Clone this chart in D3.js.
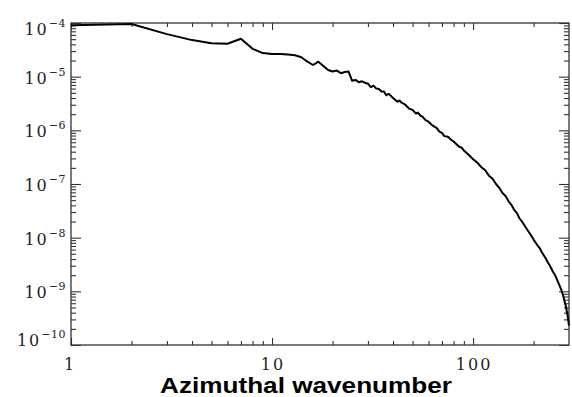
<!DOCTYPE html>
<html>
<head>
<meta charset="utf-8">
<script src="https://cdn.jsdelivr.net/npm/d3@7"></script>
<style>
  html, body { margin: 0; padding: 0; background: #fff; }
  svg { display: block; }
</style>
</head>
<body>
<script>
// ---- data ----
const wavenumber = [1,2,3,4,5,6,7,8,9,10,11,12,13,14,15,16,17,18,19,20,21,22,23,24,25,26,27,28,29,30,
  31,32,33,34,35,36,37,38,40,42,43,44,46,48,50,52,53,55,56,58,60,63,66,68,70,72,75,78,80,85,88,90,95,100,
  105,110,115,120,125,130,135,140,145,150,155,160,165,170,175,180,185,190,195,200,210,215,220,230,235,240,
  250,255,260,270,275,280,290,295,300];
const power = [9.1e-5,9.6e-5,6.2e-5,4.8e-5,4.2e-5,4.1e-5,5.1e-5,3.3e-5,2.75e-5,2.65e-5,2.65e-5,2.6e-5,2.5e-5,2.3e-5,1.9e-5,
  1.65e-5,1.9e-5,1.58e-5,1.33e-5,1.25e-5,1.3e-5,1.16e-5,1.22e-5,1.25e-5,8.4e-6,8.7e-6,7.9e-6,8.2e-6,7.7e-6,7.4e-6,
  6.4e-6,6.8e-6,6.0e-6,5.9e-6,5.3e-6,5.3e-6,4.5e-6,4.8e-6,4.0e-6,3.4e-6,3.6e-6,3.3e-6,3.0e-6,2.55e-6,2.4e-6,2.05e-6,
  2.15e-6,1.85e-6,1.8e-6,1.55e-6,1.45e-6,1.22e-6,1.1e-6,9.5e-7,9.0e-7,7.8e-7,7.6e-7,6.6e-7,6.2e-7,5.0e-7,4.7e-7,4.2e-7,
  3.5e-7,2.9e-7,2.5e-7,2.05e-7,1.8e-7,1.42e-7,1.25e-7,1.0e-7,8.5e-8,6.8e-8,6.0e-8,4.8e-8,4.1e-8,3.3e-8,2.9e-8,2.3e-8,
  2.0e-8,1.7e-8,1.45e-8,1.25e-8,1.08e-8,9.2e-9,7.0e-9,6.3e-9,5.3e-9,4.1e-9,3.5e-9,3.1e-9,2.3e-9,2.05e-9,1.75e-9,
  1.25e-9,1.05e-9,8.5e-10,5.1e-10,3.6e-10,2.3e-10];

const xDomain = [1, 300];
const yDomain = [1e-10, 1e-4];
const xMajor = [1, 10, 100];
const xMinor = [2,3,4,5,6,7,8,9,20,30,40,50,60,70,80,90,200];
const yMajorExp = [-10,-9,-8,-7,-6,-5,-4];
const xTitle = "Azimuthal wavenumber";

// ---- layout ----
const W = 572, H = 397;
const L = 71, R = 569, T = 23, B = 345;

const svg = d3.select("body").append("svg").attr("width", W).attr("height", H);
svg.append("rect").attr("width", W).attr("height", H).attr("fill", "#fff");

const x = d3.scaleLog().domain(xDomain).range([L, R]);
const y = d3.scaleLog().domain(yDomain).range([B, T]);

const yMajor = yMajorExp.map(e => Math.pow(10, e));
const yMinor = [];
yMajorExp.slice(0, -1).forEach(e => { for (let m = 2; m <= 9; m++) yMinor.push(m * Math.pow(10, e)); });

const axisColor = "#333";
function styleAxis(g) {
  g.select(".domain").remove();
  g.selectAll("line").attr("stroke", axisColor).attr("stroke-width", 1.1);
  g.selectAll("text").remove();
}

// x axes (bottom and top), ticks inward
svg.append("g").attr("transform", `translate(0,${B})`).call(d3.axisBottom(x).tickValues(xMajor).tickSize(-7).tickFormat("")).call(styleAxis);
svg.append("g").attr("transform", `translate(0,${B})`).call(d3.axisBottom(x).tickValues(xMinor).tickSize(-4).tickFormat("")).call(styleAxis);
svg.append("g").attr("transform", `translate(0,${T})`).call(d3.axisTop(x).tickValues(xMajor).tickSize(-7).tickFormat("")).call(styleAxis);
svg.append("g").attr("transform", `translate(0,${T})`).call(d3.axisTop(x).tickValues(xMinor).tickSize(-4).tickFormat("")).call(styleAxis);
// y axes (left and right), ticks inward
svg.append("g").attr("transform", `translate(${L},0)`).call(d3.axisLeft(y).tickValues(yMajor).tickSize(-10).tickFormat("")).call(styleAxis);
svg.append("g").attr("transform", `translate(${L},0)`).call(d3.axisLeft(y).tickValues(yMinor).tickSize(-5).tickFormat("")).call(styleAxis);
svg.append("g").attr("transform", `translate(${R},0)`).call(d3.axisRight(y).tickValues(yMajor).tickSize(-10).tickFormat("")).call(styleAxis);
svg.append("g").attr("transform", `translate(${R},0)`).call(d3.axisRight(y).tickValues(yMinor).tickSize(-5).tickFormat("")).call(styleAxis);

// frame
svg.append("rect").attr("x", L).attr("y", T).attr("width", R - L).attr("height", B - T)
  .attr("fill", "none").attr("stroke", axisColor).attr("stroke-width", 1.3);

// y labels 10^e
const labelFont = "'DejaVu Serif', serif";
yMajorExp.forEach(e => {
  const base = Math.max(34.5, Math.min(346, y(Math.pow(10, e)) + 7));
  const t = svg.append("text").attr("x", 66).attr("y", base).attr("text-anchor", "end")
    .attr("font-family", labelFont).attr("fill", "#222");
  t.append("tspan").attr("font-size", 16).attr("letter-spacing", 2).text("10");
  t.append("tspan").attr("font-size", 11).attr("dy", -8).attr("dx", 0).attr("letter-spacing", 0.5).text("\u2212" + Math.abs(e));
});

// x labels
xMajor.forEach(v => {
  svg.append("text").attr("x", x(v) + (v === 1 ? -1 : 1)).attr("y", 369.5).attr("text-anchor", "middle")
    .attr("font-family", labelFont).attr("font-size", 16).attr("letter-spacing", 2).attr("fill", "#222")
    .text(String(v));
});

// title
svg.append("text").attr("x", 306).attr("y", 392.5).attr("text-anchor", "middle")
  .attr("font-family", "'Liberation Sans', Arial, sans-serif").attr("font-weight", "bold")
  .attr("font-size", 22).attr("textLength", 292).attr("lengthAdjust", "spacingAndGlyphs")
  .attr("fill", "#000").text(xTitle);

// spectrum line
const pts = wavenumber.map((k, i) => [k, power[i]]);
svg.append("path").datum(pts)
  .attr("d", d3.line().x(d => x(d[0])).y(d => y(d[1])))
  .attr("fill", "none").attr("stroke", "#000").attr("stroke-width", 2).attr("stroke-linejoin", "round");
</script>
</body>
</html>
